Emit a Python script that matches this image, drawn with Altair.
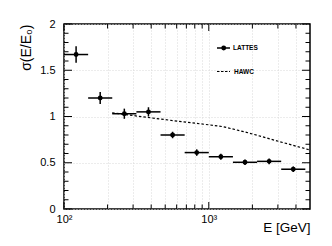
import altair as alt
import pandas as pd

# LATTES points (energy bins of 1/6 decade)
e_mid = [121.2, 177.8, 261.0, 383.1, 562.3, 825.4, 1211.5, 1778.3, 2610.2, 3831.2]
e_lo = [100.0, 146.8, 215.4, 316.2, 464.2, 681.3, 1000.0, 1467.8, 2154.4, 3162.3]
e_hi = [146.8, 215.4, 316.2, 464.2, 681.3, 1000.0, 1467.8, 2154.4, 3162.3, 4641.6]
sigma = [1.67, 1.20, 1.03, 1.05, 0.80, 0.61, 0.565, 0.505, 0.515, 0.43]
sigma_err = [0.09, 0.065, 0.055, 0.05, 0.035, 0.035, 0.033, 0.03, 0.03, 0.03]

# HAWC curve
hawc_e = [215, 319, 459, 652, 1000, 1256, 1820, 3090, 5000]
hawc_sigma = [1.04, 1.005, 0.973, 0.944, 0.91, 0.89, 0.829, 0.728, 0.638]

# axis ticks
x_major = [100, 1000]
x_minor = [200, 300, 400, 500, 600, 700, 800, 900, 2000, 3000, 4000]
y_major = [0.0, 0.5, 1.0, 1.5, 2.0]
y_minor = [0.1, 0.2, 0.3, 0.4, 0.6, 0.7, 0.8, 0.9, 1.1, 1.2, 1.3, 1.4, 1.6, 1.7, 1.8, 1.9]

W, H = 246, 185
FONT = "Liberation Sans"

lat = pd.DataFrame({"e": e_mid, "lo": e_lo, "hi": e_hi, "s": sigma,
                    "slo": [s - d for s, d in zip(sigma, sigma_err)],
                    "shi": [s + d for s, d in zip(sigma, sigma_err)]})
hawc = pd.DataFrame({"e": hawc_e, "s": hawc_sigma})

xscale = alt.Scale(type="log", domain=[100, 5000], nice=False)
yscale = alt.Scale(domain=[0, 2], nice=False, zero=False)

grid_x_vals = x_major + x_minor
xaxis = alt.Axis(values=grid_x_vals, labelExpr="datum.value == 100 ? '10²' : datum.value == 1000 ? '10³' : ''",
                 ticks=False, domain=False, grid=True, gridColor="#d8d8d8", gridDash=[1, 2],
                 labelFont=FONT, labelFontSize=11, labelColor="black", labelBaseline="alphabetic",
                 labelPadding=13, labelFlush=False, labelOverlap=False,
                 title="E [GeV]", titleFont=FONT, titleFontSize=13.5, titleFontWeight="normal",
                 titleColor="black", titleAlign="right", titleAnchor="end", titleX=W, titleY=22,
                 titleBaseline="alphabetic")
yaxis = alt.Axis(values=y_major, format="~g", ticks=False, domain=False, grid=True,
                 gridColor="#d8d8d8", gridDash=[1, 2],
                 labelFont=FONT, labelFontSize=11, labelColor="black", labelPadding=9,
                 title="σ(E/E₀)", titleFont=FONT, titleFontSize=14, titleFontWeight="normal",
                 titleColor="black", titleAngle=-90, titleAlign="right", titleBaseline="alphabetic",
                 titleX=-34, titleY=0)

base = alt.Chart(lat)

xerr = base.mark_rule(color="black", strokeWidth=1.5).encode(
    x=alt.X("lo:Q", scale=xscale, axis=xaxis), x2="hi:Q",
    y=alt.Y("s:Q", scale=yscale, axis=yaxis))
yerr = base.mark_rule(color="black", strokeWidth=1.5).encode(
    x="e:Q", y="slo:Q", y2="shi:Q")
pts = base.mark_point(filled=True, color="black", size=24, opacity=1, shape="circle").encode(
    x="e:Q", y="s:Q")

hline = alt.Chart(hawc).mark_line(color="black", strokeWidth=1.2, strokeDash=[2.5, 2]).encode(
    x="e:Q", y="s:Q")

def ticks_y(vals, length):
    d = pd.DataFrame({"v": vals})
    left = alt.Chart(d).mark_rule(color="black", strokeWidth=1).encode(
        y="v:Q", x=alt.value(0), x2=alt.value(length))
    right = alt.Chart(d).mark_rule(color="black", strokeWidth=1).encode(
        y="v:Q", x=alt.value(W), x2=alt.value(W - length))
    return [left, right]

def ticks_x(vals, length):
    d = pd.DataFrame({"v": vals})
    bottom = alt.Chart(d).mark_rule(color="black", strokeWidth=1).encode(
        x="v:Q", y=alt.value(H), y2=alt.value(H - length))
    top = alt.Chart(d).mark_rule(color="black", strokeWidth=1).encode(
        x="v:Q", y=alt.value(0), y2=alt.value(length))
    return [bottom, top]

tick_layers = ticks_y(y_major, 8) + ticks_y(y_minor, 4.5) + ticks_x(x_major, 7) + ticks_x(x_minor, 4.5)

# legend
leg_df = pd.DataFrame({"label": ["LATTES"]})
leg_line1 = alt.Chart(leg_df).mark_rule(color="black", strokeWidth=1.5).encode(
    x=alt.value(153), x2=alt.value(166), y=alt.value(24))
leg_dot = alt.Chart(leg_df).mark_point(filled=True, color="black", size=24, opacity=1).encode(
    x=alt.value(159.7), y=alt.value(24))
leg_txt1 = alt.Chart(leg_df).mark_text(font=FONT, fontSize=6.5, fontWeight="bold", align="left",
                                       baseline="middle", color="black").encode(
    x=alt.value(169), y=alt.value(24), text="label:N")
leg_df2 = pd.DataFrame({"label": ["HAWC"]})
leg_line2 = alt.Chart(leg_df2).mark_rule(color="black", strokeWidth=1.2, strokeDash=[2.5, 1.5]).encode(
    x=alt.value(153), x2=alt.value(166), y=alt.value(47.5))
leg_txt2 = alt.Chart(leg_df2).mark_text(font=FONT, fontSize=6.5, fontWeight="bold", align="left",
                                        baseline="middle", color="black").encode(
    x=alt.value(170), y=alt.value(47.5), text="label:N")

chart = alt.layer(xerr, hline, yerr, pts, *tick_layers, leg_line1, leg_dot, leg_txt1,
                  leg_line2, leg_txt2).properties(
    width=W, height=H,
    autosize=alt.AutoSizeParams(type="none"),
    padding={"left": 56, "top": 16, "right": 14, "bottom": 30},
    background="white",
).configure_view(stroke="black", strokeWidth=1.5)

chart.save("out.html", embed_options={"renderer": "svg", "actions": False})
